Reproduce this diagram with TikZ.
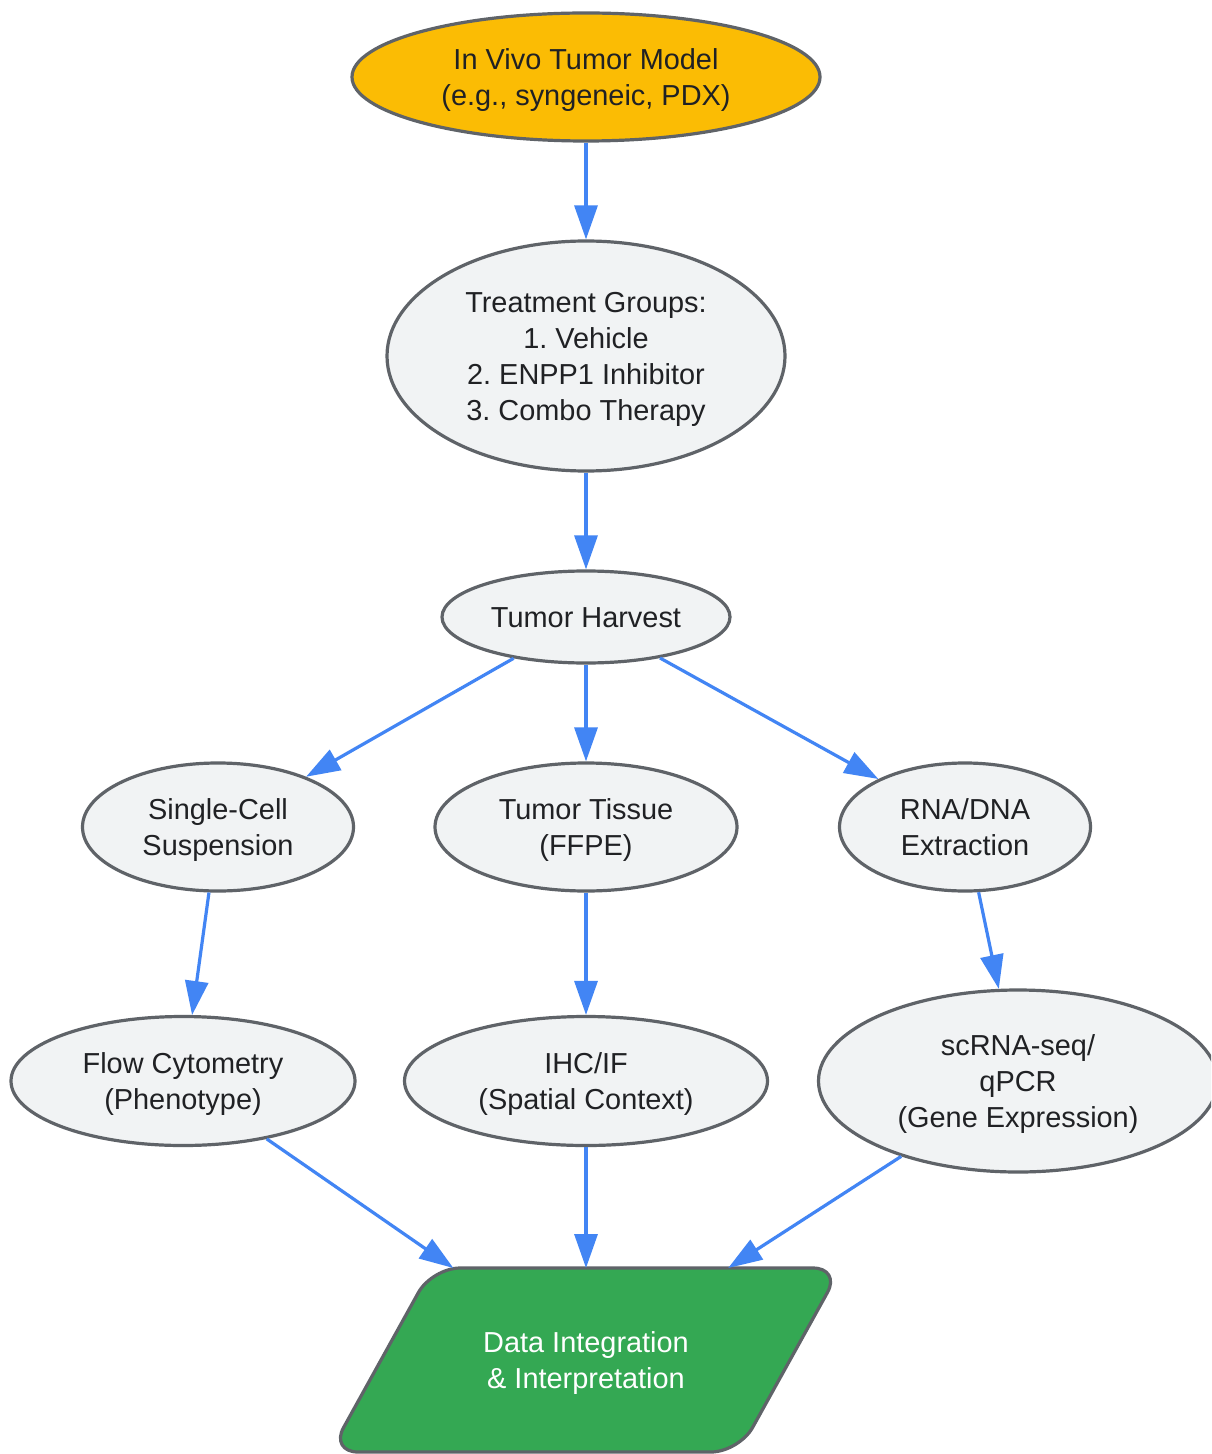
\documentclass[tikz,border=0pt]{standalone}
\usepackage{fontspec}
\setmainfont{Liberation Sans}
\usetikzlibrary{shapes.geometric,arrows.meta}
\frenchspacing
\definecolor{nodefill}{HTML}{F1F3F4}
\definecolor{nodeline}{HTML}{5F6368}
\definecolor{txt}{HTML}{202124}
\definecolor{startfill}{HTML}{FBBC04}
\definecolor{endfill}{HTML}{34A853}
\definecolor{arrblue}{HTML}{4285F4}
\newcommand{\fstline}[1]{\rule{0pt}{10.35pt}\smash{#1}}
\newcommand{\nxtline}[1]{\smash{#1}}
\tikzset{
  ell/.style={ellipse, draw=nodeline, line width=1.6pt, fill=nodefill, text=txt,
    inner sep=0pt, align=center, font=\fontsize{14.45}{18}\selectfont\frenchspacing},
  datanode/.style={rectangle, inner sep=0pt, outer sep=0pt, align=center, text=white,
    minimum width=255.5pt, minimum height=92pt, font=\fontsize{14.45}{18}\selectfont},
  arr/.style={draw=arrblue, line width=1.6pt, -{Triangle[length=17pt,width=11.5pt]}, fill=arrblue},
  para/.style={draw=nodeline, line width=1.6pt, fill=endfill, rounded corners=14pt}
}
\begin{document}
\begin{tikzpicture}[x=0.5pt,y=-0.5pt]
\clip (0,0) rectangle (1211,1454);
\fill[white] (0,0) rectangle (1211,1454);

\node[ell, fill=startfill, minimum width=234pt, minimum height=64pt] (model) at (586,77)
  {\fstline{In Vivo Tumor Model}\\\nxtline{(e.g., syngeneic, PDX)}};
\node[ell, minimum width=199pt, minimum height=115pt] (groups) at (586,356)
  {\fstline{Treatment Groups:}\\\nxtline{1. Vehicle}\\\nxtline{2. ENPP1 Inhibitor}\\\nxtline{3. Combo Therapy}};
\node[ell, minimum width=144pt, minimum height=46pt] (harvest) at (586,617)
  {\fstline{Tumor Harvest}};
\node[ell, minimum width=135.5pt, minimum height=64pt] (single) at (218,827)
  {\fstline{Single-Cell}\\\nxtline{Suspension}};
\node[ell, minimum width=151pt, minimum height=64pt] (tissue) at (586,827)
  {\fstline{Tumor Tissue}\\\nxtline{(FFPE)}};
\node[ell, minimum width=125.5pt, minimum height=64pt] (rna) at (965,827)
  {\fstline{RNA/DNA}\\\nxtline{Extraction}};
\node[ell, minimum width=172pt, minimum height=64.5pt] (flow) at (183,1081)
  {\fstline{Flow Cytometry}\\\nxtline{(Phenotype)}};
\node[ell, minimum width=181.5pt, minimum height=64.5pt] (ihc) at (586,1081)
  {\fstline{IHC/IF}\\\nxtline{(Spatial Context)}};
\node[ell, minimum width=199.5pt, minimum height=91pt] (scrna) at (1018,1081)
  {\fstline{scRNA-seq/}\\\nxtline{qPCR}\\\nxtline{(Gene Expression)}};

\draw[para] (432,1268) -- (841,1268) -- (739,1452) -- (330,1452) -- cycle;
\node[datanode] (data) at (586,1360) {\fstline{Data Integration}\\\nxtline{\& Interpretation}};

\draw[arr] (model) -- (groups);
\draw[arr] (groups) -- (harvest);
\draw[arr] (harvest) -- (single);
\draw[arr] (harvest) -- (tissue);
\draw[arr] (harvest) -- (rna);
\draw[arr] (single) -- (flow);
\draw[arr] (tissue) -- (ihc);
\draw[arr] (rna) -- (scrna);
\draw[arr] (flow) -- (data);
\draw[arr] (ihc) -- (data);
\draw[arr] (scrna) -- (data);
\end{tikzpicture}
\end{document}
